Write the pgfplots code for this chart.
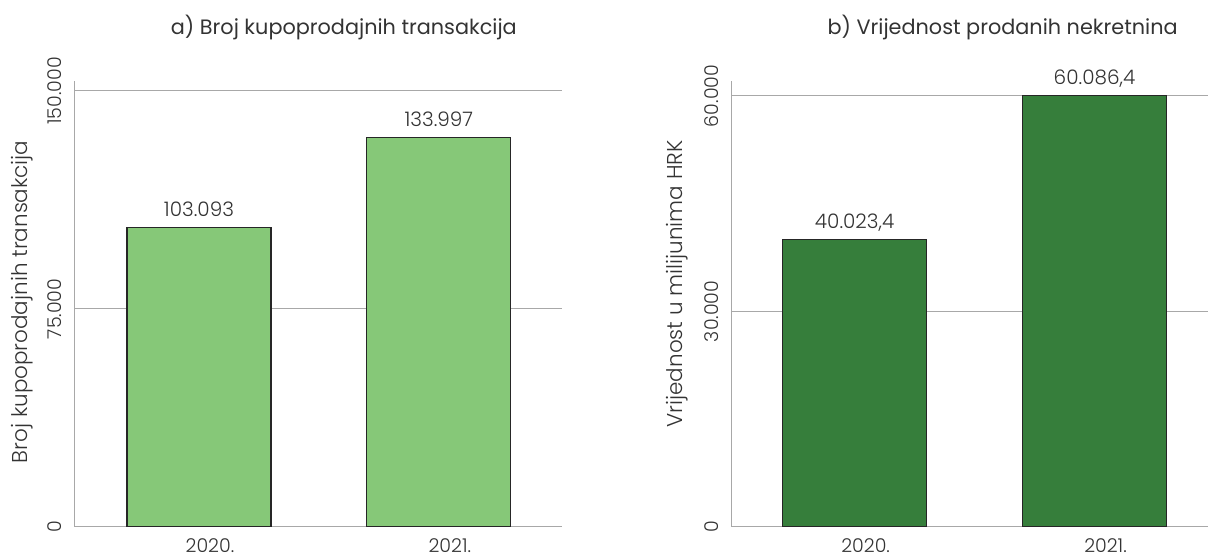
\documentclass[border=0pt]{standalone}
\usepackage{fontspec}
\setmainfont{Poppins}[UprightFont={* Light}]
\newfontfamily\titlefont{Poppins}
\usepackage{pgfplots}
\pgfplotsset{compat=1.18}
\definecolor{lgreen}{HTML}{86C878}
\definecolor{dgreen}{HTML}{367E3B}
\definecolor{gridg}{HTML}{A8A8A8}
\definecolor{txt}{HTML}{333333}
\begin{document}
\begin{tikzpicture}
\path (0pt,0pt) rectangle (1208pt,554pt);
\pgfplotsset{
  mystyle/.style={
    scale only axis,
    height=446pt,
    axis x line*=bottom,
    axis y line*=left,
    axis line style={gridg,line width=1pt,-},
    ymajorgrids,
    grid style={gridg,line width=1pt},
    ytick style={gridg,line width=1pt},
    major tick length=7pt,
    xtick style={draw=none},
    scaled y ticks=false,
    ybar,
    ymin=0,
    xtick={0,1},
    xticklabels={2020.,2021.},
    tick label style={font=\fontsize{19}{20}\selectfont, text=txt},
    yticklabel style={rotate=90, anchor=south, inner xsep=0pt, inner ysep=13pt},
    xticklabel style={anchor=north, inner sep=0pt, yshift=-5pt, xshift=11pt},
    nodes near coords,
    point meta=explicit symbolic,
    every node near coord/.append style={font=\fontsize{20}{20}\selectfont, text=txt, anchor=base, inner sep=0pt, yshift=11pt},
  }
}
\begin{axis}[mystyle, at={(75pt,27pt)}, anchor=south west, width=487pt,
  xmin=-0.517, xmax=1.5125, ymax=153440,
  ytick={0,75000,150000}, yticklabels={0,75.000,150.000},
  bar width=144pt]
\addplot[draw=black!85, line width=1.2pt, fill=lgreen] coordinates {(0,103093) [103.093] (1,133997) [133.997]};
\end{axis}
\begin{axis}[mystyle, at={(732pt,27pt)}, anchor=south west, width=476pt,
  xmin=-0.5125, xmax=1.471, ymax=62088,
  ytick={0,30000,60000}, yticklabels={0,30.000,60.000},
  bar width=144pt]
\addplot[draw=black!85, line width=1.2pt, fill=dgreen] coordinates {(0,40023.4) [40.023,4] (1,60086.4) [60.086,4]};
\end{axis}
\node[text=txt, anchor=base, font=\titlefont\fontsize{20.8}{21}\selectfont] at (344pt,519pt) {a) Broj kupoprodajnih transakcija};
\node[text=txt, anchor=base, font=\titlefont\fontsize{20.8}{21}\selectfont] at (1003pt,519pt) {b) Vrijednost prodanih nekretnina};
\node[text=txt, rotate=90, anchor=base, font=\fontsize{21.5}{22}\selectfont] at (28pt,252pt) {Broj kupoprodajnih transakcija};
\node[text=txt, rotate=90, anchor=base, font=\fontsize{21.5}{22}\selectfont] at (683pt,270pt) {Vrijednost u milijunima HRK};
\end{tikzpicture}
\end{document}
